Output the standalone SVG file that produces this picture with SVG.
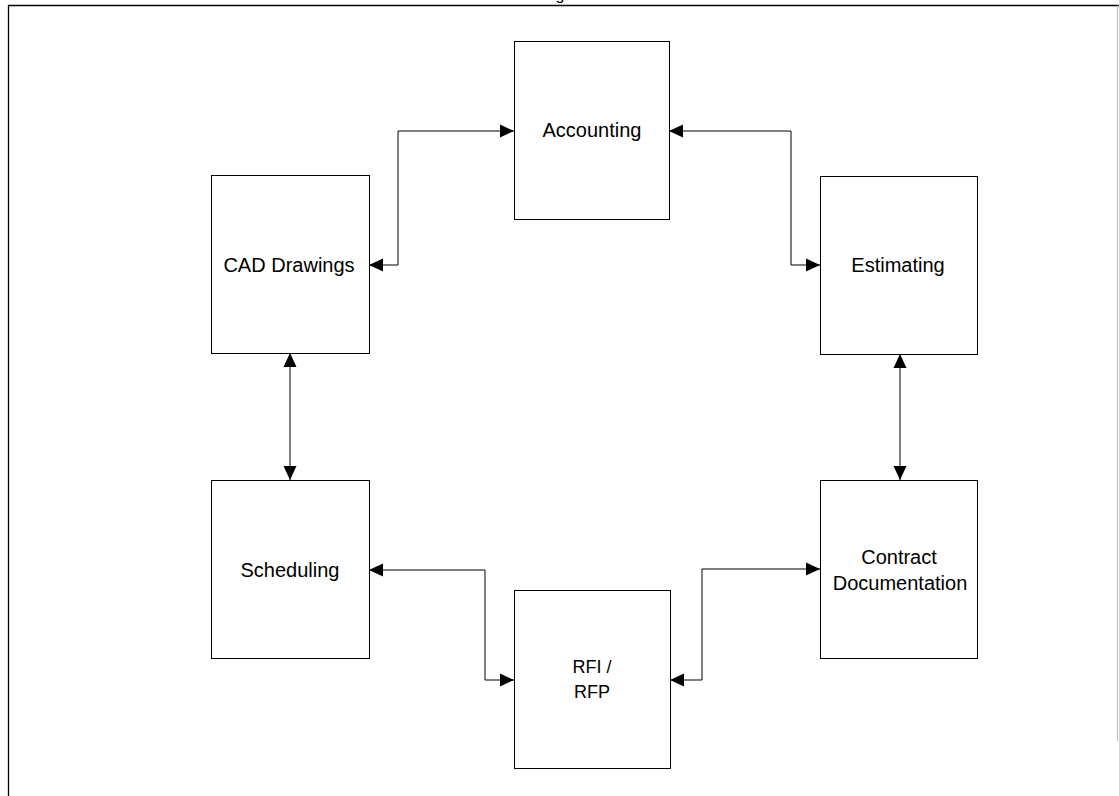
<svg xmlns="http://www.w3.org/2000/svg" width="1119" height="796" viewBox="0 0 1119 796">
  <style>
    .box { fill: #ffffff; stroke: #000000; stroke-width: 1; }
    .lbl { font-family: "Liberation Sans", Arial, sans-serif; font-size: 20px; fill: #000000; text-anchor: middle; }
    .caps { font-size: 18px; }
    .link { fill: none; stroke: #000000; stroke-width: 1; marker-start: url(#tip); marker-end: url(#tip); }
    .frame { fill: none; stroke: #000000; stroke-width: 1.3; }
  </style>
  <defs>
    <marker id="tip" markerUnits="userSpaceOnUse" markerWidth="14" markerHeight="14" viewBox="0 0 14 14" refX="14" refY="7" orient="auto-start-reverse">
      <path d="M0,0.5 L14,7 L0,13.5 Z" fill="#000000"/>
    </marker>
  </defs>

  <rect width="1119" height="796" fill="#ffffff"/>

  <!-- page frame -->
  <g id="frame">
    <path class="frame" d="M8.5,796 V5.5 H1119"/>
    <path d="M1117.5,5.5 V741" fill="none" stroke="#bbbbbb" stroke-width="1"/>
    <text x="560" y="0" class="lbl" style="font-size:16px">g</text>
  </g>

  <!-- connectors -->
  <g id="connectors">
    <path class="link" d="M369,265 H398 V131 H514"/>
    <path class="link" d="M669,131 H791 V265 H820"/>
    <path class="link" d="M900,354 V480"/>
    <path class="link" d="M290,353 V480"/>
    <path class="link" d="M369,570 H485 V680 H514"/>
    <path class="link" d="M670,680 H702 V569 H820"/>
  </g>

  <g id="accounting">
    <rect class="box" x="514.5" y="41.5" width="155" height="178"/>
    <text class="lbl" x="592" y="137">Accounting</text>
  </g>
  <g id="cad-drawings">
    <rect class="box" x="211.5" y="175.5" width="158" height="178"/>
    <text class="lbl" x="289" y="272">CAD Drawings</text>
  </g>
  <g id="estimating">
    <rect class="box" x="820.5" y="176.5" width="157" height="178"/>
    <text class="lbl" x="898" y="272">Estimating</text>
  </g>
  <g id="scheduling">
    <rect class="box" x="211.5" y="480.5" width="158" height="178"/>
    <text class="lbl" x="290" y="577">Scheduling</text>
  </g>
  <g id="contract-documentation">
    <rect class="box" x="820.5" y="480.5" width="157" height="178"/>
    <text class="lbl" x="899" y="564">Contract</text>
    <text class="lbl" x="900" y="590">Documentation</text>
  </g>
  <g id="rfi-rfp">
    <rect class="box" x="514.5" y="590.5" width="156" height="178"/>
    <text class="lbl caps" x="592" y="673">RFI /</text>
    <text class="lbl caps" x="592" y="698">RFP</text>
  </g>
</svg>
